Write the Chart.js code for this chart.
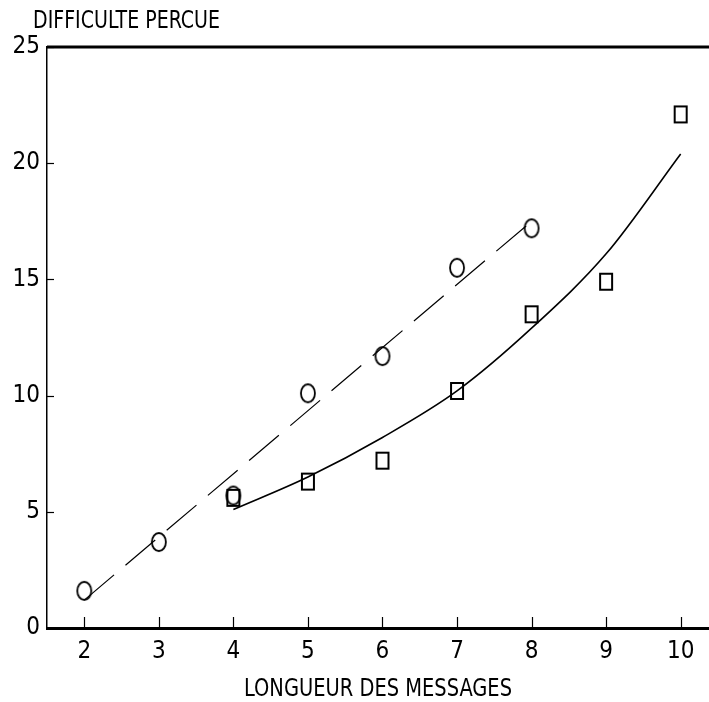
<!DOCTYPE html>
<html>
<head>
<meta charset="utf-8">
<script src="https://cdn.jsdelivr.net/npm/chart.js@4/dist/chart.umd.min.js"></script>
<style>
    html, body { margin: 0; padding: 0; background: #ffffff; }
    #wrap { width: 709px; height: 702px; }
</style>
</head>
<body>
<div id="wrap"><canvas id="chart" width="709" height="702"></canvas></div>
<script>
// ================= DATA =================
let xTicks = [2, 3, 4, 5, 6, 7, 8, 9, 10];
let yTicks = [0, 5, 10, 15, 20, 25];

// circles (open ellipses)
let circleX = [2, 3, 4, 5, 6, 7, 8];
let circleY = [1.6, 3.7, 5.7, 10.1, 11.7, 15.5, 17.2];

// squares (open rectangles)
let squareX = [4, 5, 6, 7, 8, 9, 10];
let squareY = [5.6, 6.3, 7.2, 10.2, 13.5, 14.9, 22.1];

// dashed fitted line
let dashX = [2, 8];
let dashY = [1.2, 17.5];

// solid fitted curve
let curveX = [4, 5, 6, 7, 8, 9, 10];
let curveY = [5.1, 6.5, 8.2, 10.2, 12.9, 16.1, 20.4];

const FONT = "'DejaVu Sans Condensed', 'DejaVu Sans', sans-serif";

// ================= MARKERS =================
function makeEllipse(w, h){
    let c = document.createElement("canvas");
    c.width = w + 4;
    c.height = h + 4;
    let g = c.getContext("2d");
    g.strokeStyle = "#000";
    g.lineWidth = 1.8;
    g.beginPath();
    g.ellipse(c.width / 2, c.height / 2, w / 2, h / 2, 0, 0, Math.PI * 2);
    g.stroke();
    return c;
}

function makeRect(w, h){
    let c = document.createElement("canvas");
    c.width = w + 4;
    c.height = h + 4;
    let g = c.getContext("2d");
    g.strokeStyle = "#000";
    g.lineWidth = 2;
    g.strokeRect(2, 2, w, h);
    return c;
}

function pts(xs, ys){
    return xs.map((x, i) => ({ x: x, y: ys[i] }));
}

// squeezed text, the original lettering is very narrow
function narrowText(ctx, text, x, y, width, align){
    ctx.font = "condensed 25px " + FONT;
    let w = ctx.measureText(text).width;
    let sx = width / w;
    let left = align === "center" ? x - width / 2 : x;
    ctx.save();
    ctx.translate(left, y);
    ctx.scale(sx, 1);
    ctx.textAlign = "left";
    ctx.textBaseline = "middle";
    ctx.fillText(text, 0, 0);
    ctx.restore();
}

// ================= FRAME + INNER TICKS =================
const framePlugin = {
    id: "frame",
    afterDraw(chart){
        let ctx = chart.ctx;
        let a = chart.chartArea;
        let xs = chart.scales.x;
        let ys = chart.scales.y;

        ctx.save();
        ctx.strokeStyle = "#000";

        // top line
        ctx.lineWidth = 3;
        ctx.beginPath();
        ctx.moveTo(a.left, a.top);
        ctx.lineTo(chart.width, a.top);
        ctx.stroke();

        // x ticks pointing up
        ctx.lineWidth = 1.2;
        xTicks.forEach(v => {
            let px = Math.round(xs.getPixelForValue(v)) + 0.5;
            ctx.beginPath();
            ctx.moveTo(px, a.bottom);
            ctx.lineTo(px, a.bottom - 11);
            ctx.stroke();
        });

        // y ticks pointing right
        yTicks.forEach(v => {
            let py = Math.round(ys.getPixelForValue(v)) + 0.5;
            ctx.beginPath();
            ctx.moveTo(a.left, py);
            ctx.lineTo(a.left + 7, py);
            ctx.stroke();
        });

        // axis titles
        ctx.fillStyle = "#000";
        narrowText(ctx, "DIFFICULTE PERCUE", 33, 21, 187, "left");
        narrowText(ctx, "LONGUEUR DES MESSAGES", (a.left + a.right) / 2, 689, 268, "center");

        ctx.restore();
    }
};

// ================= CHART =================
new Chart(document.getElementById("chart"), {

    type: "scatter",

    data: {
        datasets: [
            {
                data: pts(dashX, dashY),
                showLine: true,
                borderColor: "#000",
                borderWidth: 1.2,
                borderDash: [39, 15],
                pointRadius: 0
            },
            {
                data: pts(curveX, curveY),
                showLine: true,
                borderColor: "#000",
                borderWidth: 1.6,
                cubicInterpolationMode: "monotone",
                pointRadius: 0
            },
            {
                data: pts(circleX, circleY),
                pointStyle: makeEllipse(14, 18),
                pointRadius: 9
            },
            {
                data: pts(squareX, squareY),
                pointStyle: makeRect(12, 16),
                pointRadius: 9
            }
        ]
    },

    plugins: [framePlugin],

    options: {
        responsive: false,
        animation: false,
        layout: {
            autoPadding: false,
            padding: { top: 47, right: 0, left: 0, bottom: 0 }
        },
        plugins: {
            legend: { display: false },
            tooltip: { enabled: false }
        },
        scales: {
            x: {
                type: "linear",
                min: 1.5,
                max: 10.38,
                afterBuildTicks: s => { s.ticks = xTicks.map(v => ({ value: v })); },
                afterFit: s => {
                    s.height = 74;
                    s.paddingLeft = 0;
                    s.paddingRight = 0;
                },
                grid: { display: false, drawTicks: false },
                border: { display: true, color: "#000", width: 3 },
                ticks: {
                    color: "#000",
                    padding: 9,
                    font: { family: FONT, size: 24, style: "condensed" }
                }
            },
            y: {
                type: "linear",
                min: 0,
                max: 25,
                afterBuildTicks: s => { s.ticks = yTicks.map(v => ({ value: v })); },
                afterFit: s => {
                    s.width = 47;
                    s.paddingTop = 0;
                    s.paddingBottom = 0;
                },
                grid: { display: false, drawTicks: false },
                border: { display: true, color: "#000", width: 1.5 },
                ticks: {
                    color: "#000",
                    padding: 7,
                    font: { family: FONT, size: 24, style: "condensed" }
                }
            }
        }
    }

});
</script>
</body>
</html>
